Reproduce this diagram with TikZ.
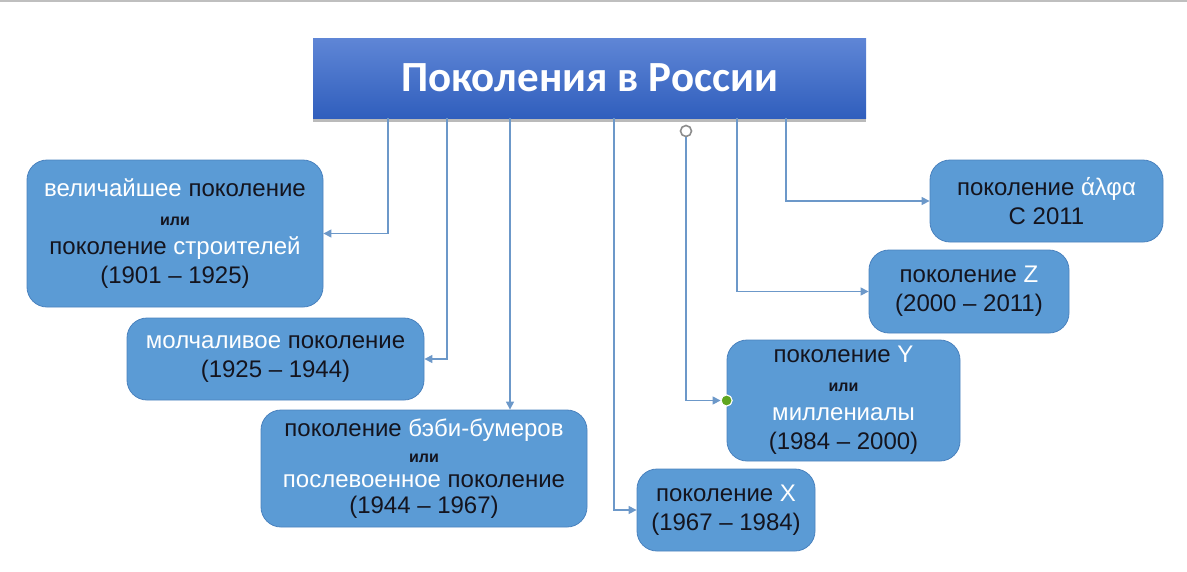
\documentclass[tikz,border=0pt]{standalone}
\usepackage{fontspec}
\setmainfont{Liberation Sans}
\newfontfamily\titlefont{Carlito}
\usetikzlibrary{arrows.meta,shadows}

\definecolor{genblue}{HTML}{5B9BD5}
\definecolor{genedge}{HTML}{4A82BE}
\definecolor{gentext}{HTML}{14141E}
\definecolor{headtop}{HTML}{5F86D6}
\definecolor{headbot}{HTML}{305EBD}
\definecolor{linkblue}{HTML}{6C98C9}
\definecolor{dotgreen}{HTML}{5FA51F}

\newcommand{\wh}[1]{\textcolor{white}{#1}}
\newcommand{\ili}{{\fontsize{16}{16}\selectfont\bfseries или}}

\begin{document}
\begin{tikzpicture}[
  x=1pt, y=-1pt,
  head/.style={rectangle, minimum width=553pt, minimum height=80pt,
               top color=headtop, bottom color=headbot, draw=none,
               text=white, font=\titlefont\bfseries\fontsize{43}{46}\selectfont,
               drop shadow={shadow xshift=0pt, shadow yshift=-4pt,
                            opacity=.45, fill=black!60}},
  gen/.style={rectangle, rounded corners=20pt, fill=genblue,
              draw=genedge, line width=0.8pt, align=center, inner sep=0pt,
              text=gentext, font=\fontsize{24}{29}\selectfont},
  link/.style={draw=linkblue, line width=1.2pt,
               -{Triangle[length=8pt, width=8pt]}},
  ring/.style={circle, draw=black!45, line width=1.6pt, fill=white,
               minimum size=11pt, inner sep=0pt},
  dot/.style={circle, fill=dotgreen, draw=white, line width=1pt,
              minimum size=11pt, inner sep=0pt},
]
  \useasboundingbox (0,0) rectangle (1187,571);
  \draw[black!25, line width=2pt] (0,0.5) -- (1187,0.5);

  \node[head] (title) at (589.5,78) {Поколения в России};

  \node[gen, minimum width=296pt, minimum height=147pt] (gen1) at (175,233.5)
    {\wh{величайшее} поколение\\ \ili\\ поколение \wh{строителей}\\ (1901 – 1925)};
  \node[gen, minimum width=297pt, minimum height=82pt] (gen2) at (275.5,359)
    {\wh{молчаливое} поколение\\ (1925 – 1944)};
  \node[gen, minimum width=326pt, minimum height=117pt,
        font=\fontsize{24}{25.5}\selectfont] (gen3) at (424,468.5)
    {поколение \wh{бэби-бумеров}\\ \ili\\ \wh{послевоенное} поколение\\ (1944 – 1967)};
  \node[gen, minimum width=178pt, minimum height=82pt] (gen4) at (726,510)
    {поколение \wh{X}\\ (1967 – 1984)};
  \node[gen, minimum width=233pt, minimum height=121pt] (gen5) at (843.5,400.5)
    {поколение \wh{Y}\\ \ili\\ \wh{миллениалы}\\ (1984 – 2000)};
  \node[gen, minimum width=200pt, minimum height=83pt] (gen6) at (969,291.5)
    {поколение \wh{Z}\\ (2000 – 2011)};
  \node[gen, minimum width=233pt, minimum height=82pt] (gen7) at (1046.5,201)
    {поколение \wh{άλφα}\\ С 2011};

  % branches from the title
  \coordinate (c1) at (388,118);
  \coordinate (c2) at (447,118);
  \coordinate (c3) at (510,118);
  \coordinate (c4) at (614,118);
  \coordinate (c6) at (737,118);
  \coordinate (c7) at (786,118);
  \node[ring] (ystart) at (686,131) {};
  \node[dot] (ydot) at (gen5.west) {};

  \draw[link] (c1) |- (gen1);
  \draw[link] (c2) |- (gen2);
  \draw[link] (c3) -- (c3 |- gen3.north);
  \draw[link] (c4) |- (gen4);
  \draw[link] (ystart) |- (ydot);
  \draw[link] (c6) |- (gen6);
  \draw[link] (c7) |- (gen7);
  \node[dot] at (ydot) {};
\end{tikzpicture}
\end{document}
